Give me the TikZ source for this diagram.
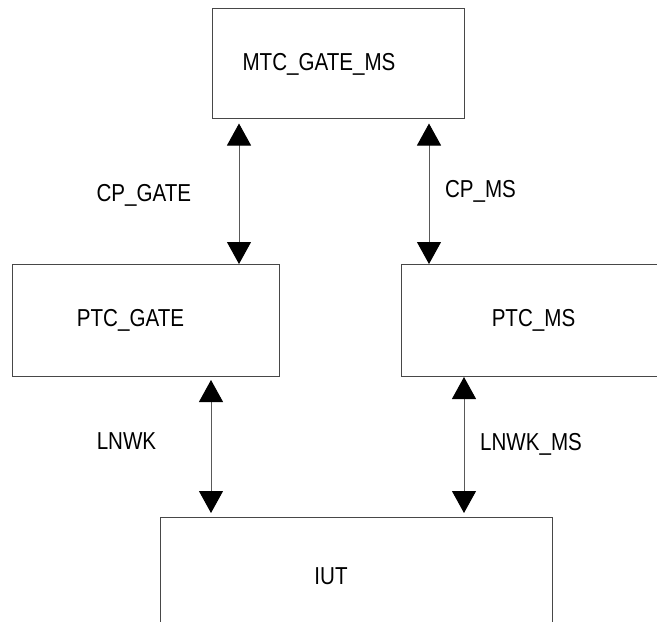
\documentclass[tikz,border=0pt]{standalone}
\usepackage{fontspec}
\setmainfont{Liberation Sans}[FakeStretch=0.84]
\usetikzlibrary{arrows.meta}
\begin{document}
\begin{tikzpicture}[x=1pt,y=-1pt,
  box/.style={draw=black!72, line width=1pt, rectangle, inner sep=0pt, anchor=north west},
  lbl/.style={anchor=base, inner sep=0pt, font=\fontsize{24.5}{28}\selectfont},
  arr/.style={draw=black!65, line width=1pt,
    {Triangle[length=22pt,width=24pt,color=black]}-{Triangle[length=22pt,width=24pt,color=black]}}]
\useasboundingbox (0,0) rectangle (657,622);
\clip (0,0) rectangle (657,622);
% boxes
\node[box, minimum width=252pt, minimum height=110pt] (mtc) at (212,8) {};
\node[box, minimum width=267pt, minimum height=112pt] (ptcgate) at (12,264) {};
\node[box, minimum width=300pt, minimum height=112pt] (ptcms) at (401,264) {};
\node[box, minimum width=392pt, minimum height=160pt] (iut) at (160,517) {};
% texts
\node[lbl] (tmtc) at (319,70.7) {MTC\_GATE\_MS};
\node[lbl] (tptcgate) at (130.5,326.7) {PTC\_GATE};
\node[lbl] (tptcms) at (533.5,326.7) {PTC\_MS};
\node[lbl] (tiut) at (331,584) {IUT};
\node[lbl] (lcpgate) at (143.8,201.7) {CP\_GATE};
\node[lbl] (lcpms) at (480.5,197.3) {CP\_MS};
\node[lbl] (llnwk) at (126.5,449.3) {LNWK};
\node[lbl] (llnwkms) at (531,450) {LNWK\_MS};
% arrow columns
\coordinate (c1) at (239,0);
\coordinate (c2) at (429,0);
\coordinate (c3) at (211,0);
\coordinate (c4) at (464,0);
\draw[arr, shorten <=4.5pt] (mtc.south -| c1) -- (ptcgate.north -| c1);
\draw[arr, shorten <=4.5pt] (mtc.south -| c2) -- (ptcms.north -| c2);
\draw[arr, shorten <=3pt, shorten >=4pt] (ptcgate.south -| c3) -- (iut.north -| c3);
\draw[arr, shorten >=4pt] (ptcms.south -| c4) -- (iut.north -| c4);
\end{tikzpicture}
\end{document}
